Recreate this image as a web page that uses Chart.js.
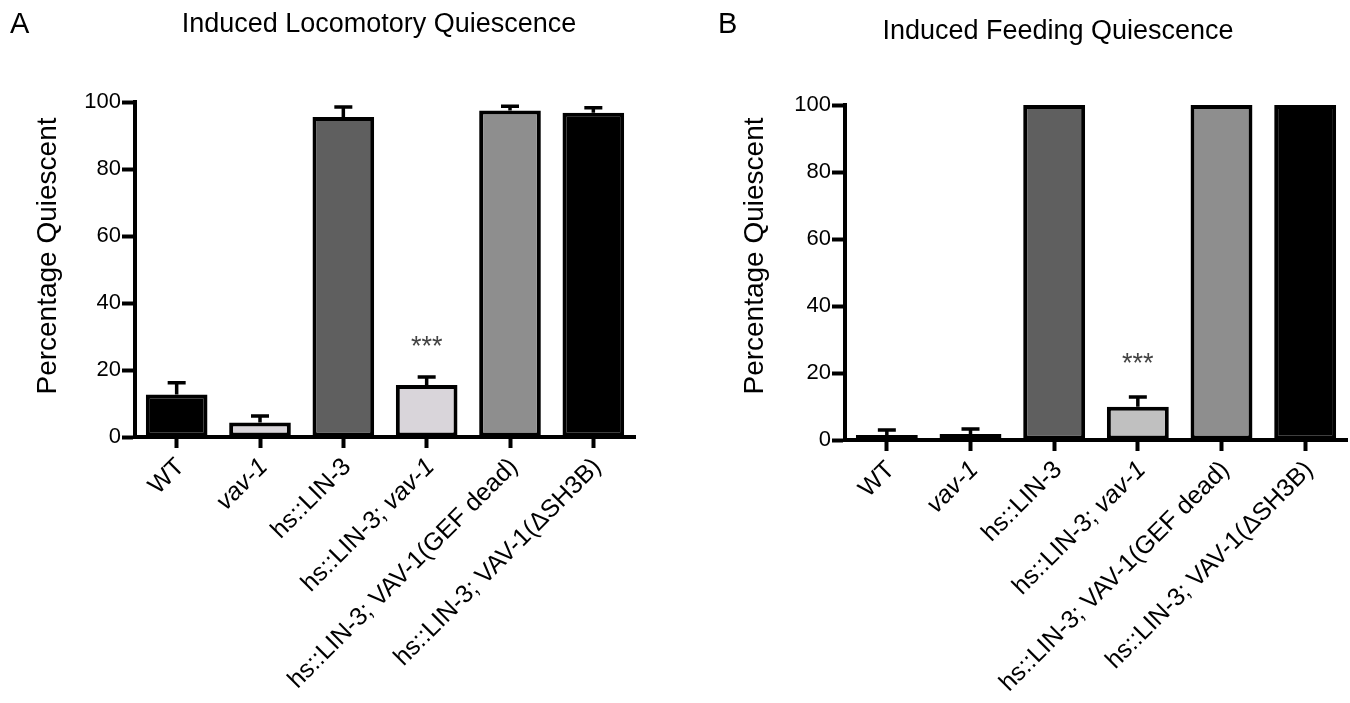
<!DOCTYPE html>
<html>
<head>
<meta charset="utf-8">
<script src="https://cdn.jsdelivr.net/npm/chart.js@4.4.0/dist/chart.umd.min.js"></script>
<style>
body { margin: 0; background: #fff; }
#wrap { position: relative; width: 1350px; height: 703px; }
.panel { position: absolute; top: 0; width: 675px; height: 703px; }
</style>
</head>
<body>
<div id="wrap">
  <div class="panel" style="left:0"><canvas id="chartA" width="675" height="703"></canvas></div>
  <div class="panel" style="left:675px"><canvas id="chartB" width="675" height="703"></canvas></div>
</div>
<script>
var categories = ['WT', 'vav-1', 'hs::LIN-3', 'hs::LIN-3; vav-1', 'hs::LIN-3; VAV-1(GEF dead)', 'hs::LIN-3; VAV-1(\u0394SH3B)'];
var yTicks = [0, 20, 40, 60, 80, 100];

// panel A - locomotory quiescence
var locoValues = [12.7, 4.3, 95.5, 15.5, 97.5, 96.8];
var locoErrors = [3.5, 2.0, 3.0, 2.4, 1.2, 1.5];
var locoColors = ['#000000', '#d9d5da', '#5f5f5f', '#d9d5da', '#8e8e8e', '#000000'];

// panel B - feeding quiescence
var feedValues = [1.5, 1.8, 100, 9.9, 100, 100];
var feedErrors = [1.5, 1.5, 0, 2.9, 0, 0];
var feedColors = ['#000000', '#d9d5da', '#5f5f5f', '#c0c0c0', '#8e8e8e', '#000000'];

var FONT = '"Liberation Sans", Arial, Helvetica, sans-serif';

var errorBars = {
    id: 'errorBars',
    afterDatasetsDraw: function (chart) {
        var ctx = chart.ctx;
        var ds = chart.data.datasets[0];
        var meta = chart.getDatasetMeta(0);
        var y = chart.scales.y;
        ctx.save();
        ctx.strokeStyle = '#000';
        ctx.lineWidth = 3.5;
        meta.data.forEach(function (bar, i) {
            var e = ds.errors[i];
            if (!e) return;
            var top = y.getPixelForValue(ds.data[i] + e);
            var base = y.getPixelForValue(ds.data[i]);
            ctx.beginPath();
            ctx.moveTo(bar.x, base);
            ctx.lineTo(bar.x, top);
            ctx.moveTo(bar.x - 9, top);
            ctx.lineTo(bar.x + 9, top);
            ctx.stroke();
        });
        ctx.restore();
    }
};

var panelText = {
    id: 'panelText',
    afterDraw: function (chart) {
        var o = chart.options.plugins.panelText;
        var ctx = chart.ctx;
        var x = chart.scales.x, y = chart.scales.y;
        ctx.save();
        ctx.fillStyle = '#000';

        ctx.font = '29px ' + FONT;
        ctx.textAlign = 'left';
        ctx.textBaseline = 'alphabetic';
        ctx.fillText(o.letter, o.letterX, 33);

        ctx.font = '27px ' + FONT;
        ctx.textAlign = 'center';
        ctx.fillText(o.title, o.titleX, o.titleY);

        ctx.save();
        ctx.translate(o.yTitleX, 256);
        ctx.rotate(-Math.PI / 2);
        ctx.font = '28px ' + FONT;
        ctx.textBaseline = 'middle';
        ctx.fillText('Percentage Quiescent', 0, 0);
        ctx.restore();

        // rotated category labels, "vav-1" in italics
        categories.forEach(function (lab, i) {
            var parts = lab.split(/(vav-1)/).filter(Boolean);
            var widths = [], total = 0;
            parts.forEach(function (p) {
                ctx.font = (p === 'vav-1' ? 'italic ' : '') + '25px ' + FONT;
                var w = ctx.measureText(p).width;
                widths.push(w);
                total += w;
            });
            ctx.save();
            ctx.translate(x.getPixelForValue(i) + 4, y.bottom + 26);
            ctx.rotate(-Math.PI / 4);
            ctx.textAlign = 'left';
            ctx.textBaseline = 'middle';
            var cx = -total;
            parts.forEach(function (p, k) {
                ctx.font = (p === 'vav-1' ? 'italic ' : '') + '25px ' + FONT;
                ctx.fillText(p, cx, 0);
                cx += widths[k];
            });
            ctx.restore();
        });

        ctx.font = '27px ' + FONT;
        ctx.fillStyle = '#444';
        ctx.textAlign = 'center';
        ctx.textBaseline = 'middle';
        ctx.fillText('***', x.getPixelForValue(3), y.getPixelForValue(o.starValue) + 4);
        ctx.restore();
    }
};

function makeChart(id, values, errors, colors, opts) {
    return new Chart(document.getElementById(id), {
        type: 'bar',
        data: {
            labels: categories,
            datasets: [{
                data: values,
                errors: errors,
                backgroundColor: colors,
                borderColor: '#000',
                borderWidth: 4,
                borderSkipped: false,
                barPercentage: 0.74,
                categoryPercentage: 1,
                clip: false
            }]
        },
        options: {
            responsive: false,
            animation: false,
            events: [],
            layout: { padding: { left: 0, right: opts.right, top: opts.top, bottom: 0 } },
            plugins: {
                legend: { display: false },
                tooltip: { enabled: false },
                panelText: opts.text
            },
            scales: {
                x: {
                    offset: true,
                    afterFit: function (s) { s.height = 703 - opts.bottom; },
                    grid: { offset: false, drawOnChartArea: false, drawTicks: true, tickLength: 11, tickWidth: 4, tickColor: '#000' },
                    border: { display: true, color: '#000', width: 4 },
                    ticks: { display: false }
                },
                y: {
                    min: 0,
                    max: 100,
                    afterFit: function (s) { s.width = opts.left; },
                    afterBuildTicks: function (s) { s.ticks = yTicks.map(function (v) { return { value: v }; }); },
                    grid: { drawOnChartArea: false, drawTicks: true, tickLength: 13, tickWidth: 4, tickColor: '#000' },
                    border: { display: true, color: '#000', width: 4 },
                    ticks: { color: '#000', padding: 1, font: { family: FONT, size: 22 } }
                }
            }
        },
        plugins: [errorBars, panelText]
    });
}

makeChart('chartA', locoValues, locoErrors, locoColors, {
    left: 135, right: 40, top: 102, bottom: 437,
    text: { letter: 'A', letterX: 10, title: 'Induced Locomotory Quiescence', titleX: 379, titleY: 32, yTitleX: 48, starValue: 28 }
});

makeChart('chartB', feedValues, feedErrors, feedColors, {
    left: 170, right: 3, top: 105, bottom: 440,
    text: { letter: 'B', letterX: 43, title: 'Induced Feeding Quiescence', titleX: 383, titleY: 39, yTitleX: 80, starValue: 23.7 }
});
</script>
</body>
</html>
